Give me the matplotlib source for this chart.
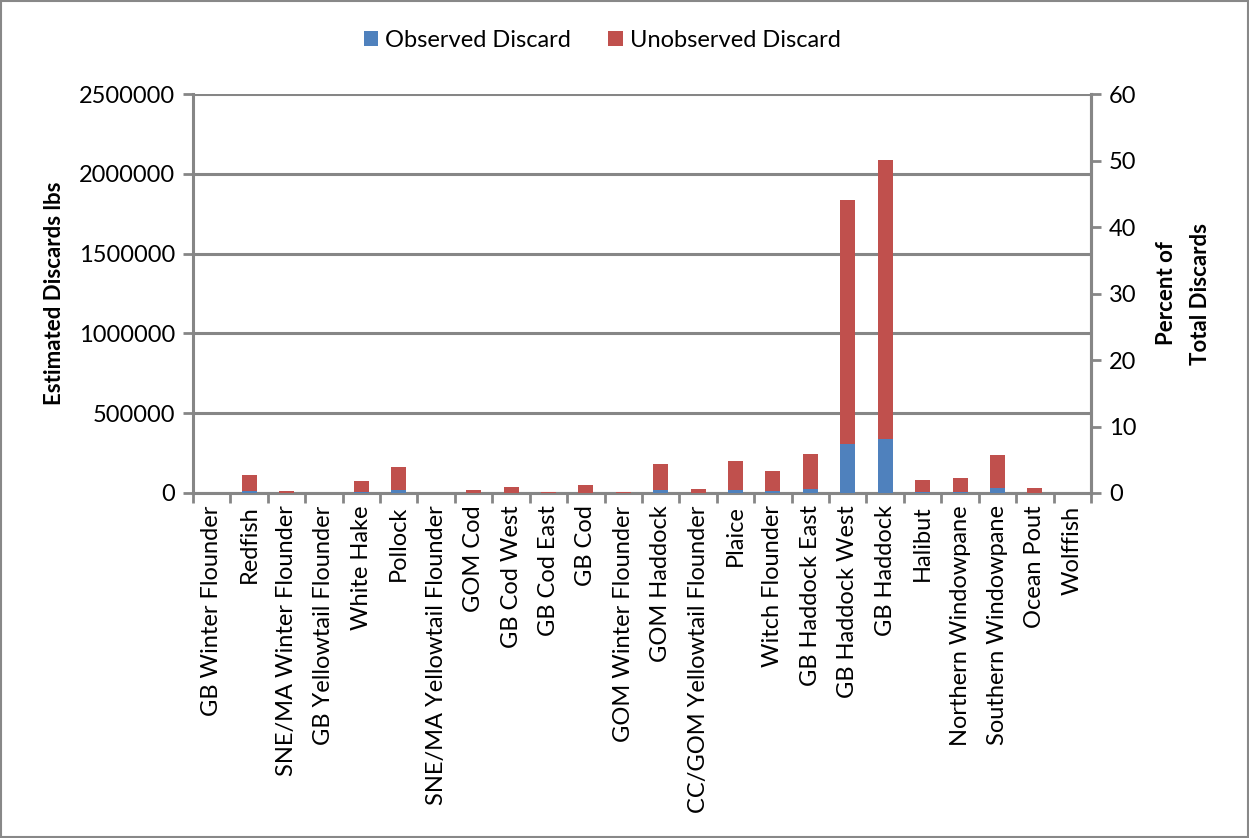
import matplotlib
matplotlib.use("Agg")
import matplotlib.pyplot as plt
from matplotlib.patches import Rectangle
from matplotlib.ticker import FuncFormatter
import numpy as np

species = [
    "GB Winter Flounder", "Redfish", "SNE/MA Winter Flounder", "GB Yellowtail Flounder",
    "White Hake", "Pollock", "SNE/MA Yellowtail Flounder", "GOM Cod", "GB Cod West",
    "GB Cod East", "GB Cod", "GOM Winter Flounder", "GOM Haddock",
    "CC/GOM Yellowtail Flounder", "Plaice", "Witch Flounder", "GB Haddock East",
    "GB Haddock West", "GB Haddock", "Halibut", "Northern Windowpane",
    "Southern Windowpane", "Ocean Pout", "Wolffish",
]
observed = [
    0, 12000, 1000, 0, 5000, 18000, 0, 2000, 3000, 1000, 3000, 1000, 20000,
    2000, 20000, 10000, 25000, 309000, 338000, 8000, 8000, 33000, 2000, 0,
]
totals = [
    0, 113000, 14000, 0, 76000, 163000, 0, 19000, 38000, 8000, 50000, 8000, 182000,
    25000, 200000, 138000, 244000, 1836000, 2087000, 81000, 94000, 238000, 31000, 0,
]
unobserved = [t - o for t, o in zip(totals, observed)]

BLUE = "#4F81BD"
RED = "#C0504D"
GRID = "#868686"
plt.rcParams["font.family"] = ["Lato", "DejaVu Sans"]

fig = plt.figure(figsize=(12.49, 8.38), dpi=100)
ax = fig.add_axes([0.1545, 0.4117, 0.719, 0.4761])
x = np.arange(len(species))

ax.bar(x, observed, width=0.4, color=BLUE, label="Observed Discard", zorder=3)
ax.bar(x, unobserved, width=0.4, bottom=observed, color=RED,
       label="Unobserved Discard", zorder=3)

ax.set_xlim(-0.5, len(species) - 0.5)
ax.set_ylim(0, 2500000)
ax.set_yticks(np.arange(0, 2500001, 500000))
ax.yaxis.set_major_formatter(FuncFormatter(lambda v, p: f"{int(v)}"))
ax.yaxis.grid(True, color=GRID, linewidth=2.2, zorder=0)
ax.set_axisbelow(True)

ax.set_xticks(x)
ax.set_xticklabels(species, rotation=90, fontsize=17)
ax.tick_params(axis="x", length=0, pad=9)
ax.set_xticks(np.arange(-0.5, len(species)), minor=True)
ax.tick_params(axis="x", which="minor", length=7, width=2, color=GRID)
ax.tick_params(axis="y", labelsize=17, length=7, width=2, color=GRID, pad=6)

ax.spines["top"].set_visible(False)
for side in ["left", "bottom", "right"]:
    ax.spines[side].set_color(GRID)
    ax.spines[side].set_linewidth(2.2)

ax.set_ylabel("Estimated Discards lbs", fontsize=16, fontweight="bold", labelpad=10)

ax2 = ax.twinx()
ax2.set_ylim(0, 60)
ax2.set_yticks(np.arange(0, 61, 10))
ax2.tick_params(axis="y", labelsize=17, length=7, width=2, color=GRID, pad=6)
for side in ["top", "left", "bottom"]:
    ax2.spines[side].set_visible(False)
ax2.spines["right"].set_color(GRID)
ax2.spines["right"].set_linewidth(2.2)
ax2.set_ylabel("Percent of\nTotal Discards", fontsize=16, fontweight="bold",
               labelpad=14, linespacing=1.75)

handles, labels = ax.get_legend_handles_labels()
fig.legend(handles, labels, loc="center", bbox_to_anchor=(0.482, 0.952), ncol=2,
           frameon=False, fontsize=17, handlelength=0.6, handleheight=0.6,
           handletextpad=0.3, columnspacing=1.6)

fig.patches.append(Rectangle((0.001, 0.001), 0.998, 0.998, transform=fig.transFigure,
                             fill=False, edgecolor="#888888", linewidth=1.5))

fig.savefig("out.png", dpi=100)
